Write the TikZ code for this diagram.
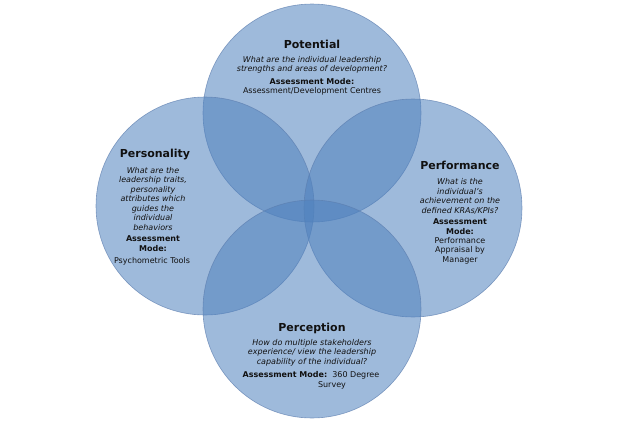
\documentclass[tikz,border=0pt]{standalone}
\usepackage{fontspec}
\setmainfont{DejaVu Sans}
\definecolor{circfill}{HTML}{4F81BD}
\definecolor{circedge}{HTML}{5B7DAE}
\definecolor{txt}{HTML}{111111}
\begin{document}
\begin{tikzpicture}[x=1pt,y=-1pt,
  venn/.style={circle, minimum size=218pt, inner sep=0pt, fill=circfill, fill opacity=0.55, draw=circedge, draw opacity=0.7, line width=0.6pt},
  ttl/.style={font=\fontsize{11}{13}\selectfont\bfseries, text=txt, inner sep=0pt},
  qtext/.style={font=\fontsize{8}{9.5}\selectfont\itshape, text=txt, align=center, inner sep=0pt},
  mtext/.style={font=\fontsize{8}{9.5}\selectfont, text=txt, align=center, inner sep=0pt}]
\useasboundingbox (0,0) rectangle (624,426);
% circles
\node[venn] (top) at (312,113) {};
\node[venn] (left) at (205,206) {};
\node[venn] (right) at (413,208) {};
\node[venn] (bottom) at (312,309) {};
% Potential
\node[ttl] (potT) at (312,44) {Potential};
\node[qtext] (potQ) at (312,65) {What are the individual leadership\\strengths and areas of development?};
\node[mtext] (potM) at (312,87) {\textbf{Assessment Mode:}\\Assessment/Development Centres};
% Personality
\node[ttl] (perT) at (155,155) {Personality};
\node[qtext] (perQ) at (153,199) {What are the\\leadership traits,\\personality\\attributes which\\guides the\\individual\\behaviors};
\node[mtext] (perM) at (153,243.5) {\textbf{Assessment}\\\textbf{Mode:}};
\node[mtext] (perP) at (152,261) {Psychometric Tools};
% Performance
\node[ttl] (pfT) at (460,165) {Performance};
\node[qtext] (pfQ) at (460,196.5) {What is the\\individual's\\achievement on the\\defined KRAs/KPIs?};
\node[mtext] (pfM) at (460,226.5) {\textbf{Assessment}\\\textbf{Mode:}};
\node[mtext] (pfP) at (460,250.5) {Performance\\Appraisal by\\Manager};
% Perception
\node[ttl] (pcT) at (312,328) {Perception};
\node[qtext] (pcQ) at (312,352.5) {How do multiple stakeholders\\experience/ view the leadership\\capability of the individual?};
\node[mtext] (pcM) at (311,375) {\textbf{Assessment Mode:}\ \ 360 Degree};
\node[mtext] (pcS) at (332,385) {Survey};
\end{tikzpicture}
\end{document}
